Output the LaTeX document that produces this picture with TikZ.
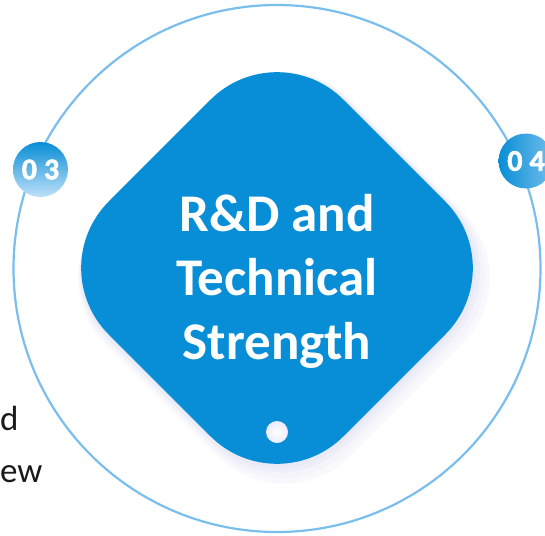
\documentclass[tikz,border=0pt]{standalone}
\usepackage{fontspec}
\setmainfont{Carlito}
\newfontfamily\badgefont[FakeBold=2]{Carlito Bold}
\usepackage{xcolor}
\usetikzlibrary{positioning, calc}

\definecolor{coreblue}{RGB}{8,142,214}
\definecolor{ringblue}{RGB}{122,190,238}
\definecolor{badgelight}{RGB}{190,224,249}
\definecolor{bodygray}{RGB}{26,26,26}

\begin{document}
\begin{tikzpicture}[
        x=1pt, y=-1pt,
        ring/.style={draw=ringblue, line width=2.2pt},
        core/.style={rectangle, rounded corners=94pt, minimum size=332pt, inner sep=0pt, rotate=45, fill=coreblue},
        halo/.style={rectangle, rounded corners=94pt, minimum size=332pt, inner sep=0pt, rotate=45, fill=black!40!blue!30, opacity=0.08},
        title/.style={align=center, text=white, font=\bfseries\fontsize{53}{64}\selectfont},
        badge/.style={circle, minimum size=55pt, inner sep=0pt, text=white, font=\badgefont\fontsize{30}{30}\selectfont},
        body/.style={text=bodygray, inner sep=0pt, font=\fontsize{35}{40}\selectfont}
    ]
    \useasboundingbox (0,0) rectangle (545,535);

    % Ring
    \node[ring, circle, minimum size=527pt, inner sep=0pt] (ring) at (277,268.5) {};

    % Soft shadow
    \foreach \d in {14,10,6,3}
        \node[halo, minimum size={332pt+\d pt}] (halo\d) at ($(277,268)+(\d/2,\d/1.4)$) {};

    % Core shape
    \node[core] (core) at (277,268) {};
    \node[title] (label) at (277,281) {R\&D and\\Technical\\Strength};
    \node[circle, minimum size=22pt, inner sep=0pt, inner color=white, outer color=black!5!blue!8] (hole) at (277,432) {};

    % Badges
    \node[badge, top color=coreblue, bottom color=badgelight] (b03) at (40.5,169.5) {0\hspace{7pt}3};
    \node[badge, left color=coreblue, right color=badgelight!60!coreblue] (b04) at (526,161) {0\hspace{7pt}4};

    % Cut-off body text
    \node[body, anchor=base west] (bodyd) at (0,430) {d};
    \node[body, anchor=base west] (bodyew) at (0,482) {ew};

\end{tikzpicture}
\end{document}
